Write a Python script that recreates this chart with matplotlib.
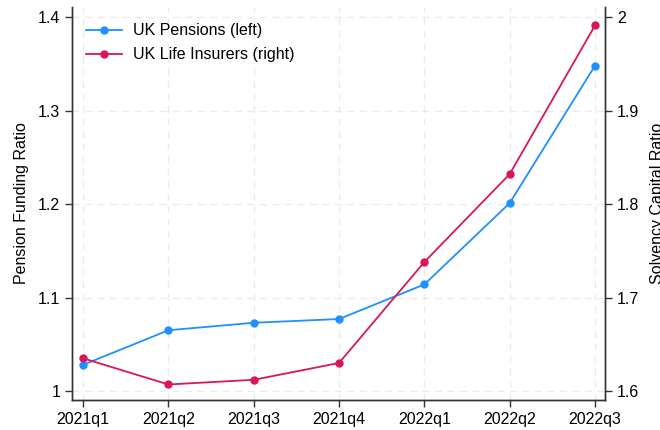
import matplotlib
matplotlib.use("Agg")
import matplotlib.pyplot as plt

quarters = ["2021q1", "2021q2", "2021q3", "2021q4", "2022q1", "2022q2", "2022q3"]
pension_funding = [1.028, 1.065, 1.073, 1.077, 1.114, 1.201, 1.348]
life_solvency = [1.635, 1.607, 1.612, 1.630, 1.738, 1.832, 1.991]

BLUE = "#1e90ff"
RED = "#d6175a"
AXIS = "#333333"

plt.rcParams["font.family"] = ["Liberation Sans", "DejaVu Sans"]
plt.rcParams["font.size"] = 11.5

fig = plt.figure(figsize=(6.6, 4.3), dpi=100)
ax = fig.add_axes([72 / 660, 30 / 430, 533 / 660, 393 / 430])
ax2 = ax.twinx()

x = list(range(len(quarters)))
l1, = ax.plot(x, pension_funding, color=BLUE, marker="o", markersize=5, lw=1.3,
              label="UK Pensions (left)")
l2, = ax2.plot(x, life_solvency, color=RED, marker="o", markersize=5, lw=1.3,
               label="UK Life Insurers (right)")

ax.set_xlim(-0.13, 6.117)
ax.set_ylim(0.9904, 1.4107)
ax2.set_ylim(0.9904 + 0.6, 1.4107 + 0.6)

ax.set_xticks(x)
ax.set_xticklabels(quarters)
ax.set_yticks([1.0, 1.1, 1.2, 1.3, 1.4])
ax.set_yticklabels(["1", "1.1", "1.2", "1.3", "1.4"])
ax2.set_yticks([1.6, 1.7, 1.8, 1.9, 2.0])
ax2.set_yticklabels(["1.6", "1.7", "1.8", "1.9", "2"])

ax.grid(True, color="#ebebeb", ls=(0, (5, 4)), lw=1)
ax.set_axisbelow(True)

for a in (ax, ax2):
    a.spines["top"].set_visible(False)
    for s in ("left", "right", "bottom"):
        a.spines[s].set_color(AXIS)
        a.spines[s].set_linewidth(1.0)
    a.tick_params(colors="black", length=5, width=1, direction="out", color=AXIS)

ax.set_ylabel("Pension Funding Ratio", labelpad=6)
ax2.set_ylabel("Solvency Capital Ratio", labelpad=8)

ax.legend(handles=[l1, l2], loc="upper left", frameon=False,
          bbox_to_anchor=(0.0, 0.995), handlelength=2.2, handletextpad=0.7,
          borderaxespad=0.5, labelspacing=0.55)

fig.savefig("out.png", dpi=100, facecolor="white")
